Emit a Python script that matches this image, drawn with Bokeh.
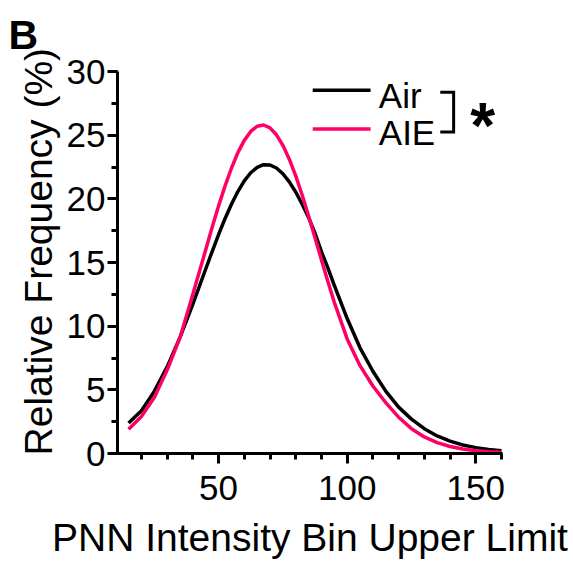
from bokeh.plotting import figure
from bokeh.models import Range1d, SingleIntervalTicker, Label
from bokeh.core.properties import value
from bokeh.embed import file_html
from bokeh.resources import INLINE

# ---- data ----
x_bins = [15, 20, 25, 30, 35, 40, 45,
          47.5, 50, 52.5, 55, 57.5, 60, 62.5, 65, 67.5, 70, 72.5, 75, 77.5, 80, 82.5, 85, 87.5, 90, 92.5,
          95, 100, 105, 110, 115, 120, 125, 130, 135, 140, 145, 150, 155, 160]
air = [2.40, 3.36, 4.88, 6.80, 9.12, 11.73, 14.49,
       15.86, 17.19, 18.44, 19.57, 20.57, 21.41, 22.05, 22.47, 22.68, 22.66, 22.42, 21.97, 21.33,
       20.54, 19.57, 18.53, 17.30, 15.85, 14.57,
       13.20, 10.60, 8.30, 6.46, 4.90, 3.64, 2.70, 1.95, 1.38, 0.97, 0.67, 0.46, 0.31, 0.21]
aie = [1.90, 2.90, 4.40, 6.55, 9.10, 12.50, 16.00,
       17.77, 19.44, 21.00, 22.40, 23.63, 24.59, 25.29, 25.70, 25.80, 25.57, 25.03, 24.20, 23.11,
       21.80, 20.30, 18.66, 16.95, 15.20, 13.50,
       11.87, 9.00, 6.90, 5.30, 4.00, 2.85, 1.95, 1.30, 0.85, 0.55, 0.35, 0.22, 0.14, 0.09]
series_names = ["Air", "AIE"]
series_values = [air, aie]
series_colors = ["#000000", "#FF0066"]
x_tick_interval = 50
y_tick_interval = 5
panel_letter = "B"
significance = "*"

FONT = "Liberation Sans"

p = figure(width=573, height=561, output_backend="svg", toolbar_location=None,
           x_range=Range1d(10.7, 160.4), y_range=Range1d(0, 30),
           min_border_left=117, min_border_right=71, min_border_top=70, min_border_bottom=105)
p.grid.visible = False
p.outline_line_color = None
p.background_fill_color = "white"
p.border_fill_color = "white"

for vals, col in zip(series_values, series_colors):
    p.line(x_bins, vals, line_color=col, line_width=3.5, line_join="round")

p.xaxis.ticker = SingleIntervalTicker(interval=x_tick_interval, num_minor_ticks=5)
p.yaxis.ticker = SingleIntervalTicker(interval=y_tick_interval, num_minor_ticks=2)
p.xaxis.axis_label = "PNN Intensity Bin Upper Limit"
# leading no-break spaces nudge the rotated label upward, as in the reference
p.yaxis.axis_label = "\u00a0\u00a0Relative Frequency (%)"
for ax in (p.xaxis, p.yaxis):
    ax.axis_line_width = 3
    ax.axis_line_color = "black"
    ax.major_tick_line_width = 3
    ax.minor_tick_line_width = 3
    ax.major_tick_line_color = "black"
    ax.minor_tick_line_color = "black"
    ax.major_tick_in = 0
    ax.minor_tick_in = 0
    ax.major_tick_out = 10
    ax.minor_tick_out = 6
    ax.major_label_text_font = FONT
    ax.major_label_text_font_size = "35px"
    ax.major_label_text_color = "black"
    ax.axis_label_text_font = FONT
    ax.axis_label_text_font_size = "39px"
    ax.axis_label_text_font_style = "normal"
    ax.axis_label_text_color = "black"
p.xaxis.major_label_standoff = 12
p.xaxis.axis_label_standoff = 13
p.yaxis.major_label_standoff = 2
p.yaxis.axis_label_standoff = 4

# panel letter as title
p.title.text = panel_letter
p.title.text_font = FONT
p.title.text_font_size = "41px"
p.title.text_font_style = "bold"
p.title.text_color = "black"
p.title.align = "left"
p.title.vertical_align = "top"
p.title.offset = -109
p.title.standoff = 23

# ---- legend drawn by hand ----
leg_x0, leg_x1, leg_tx = 86.6, 109.1, 112.3
leg_line_y = [28.53, 25.49]
leg_text_y = [28.14, 25.18]
for name, col, ly, ty in zip(series_names, series_colors, leg_line_y, leg_text_y):
    p.segment(x0=leg_x0, y0=ly, x1=leg_x1, y1=ly, line_color=col, line_width=3.5)
    p.text(x=[leg_tx], y=[ty], text=[name], text_font=value(FONT), text_font_size="35px",
           text_baseline="middle", text_align="left", text_color="black")

# bracket + asterisk
p.line(x=[136.2, 141.4, 141.4, 136.2], y=[28.37, 28.37, 25.25, 25.25],
       line_color="black", line_width=3, line_join="miter")
p.add_layout(Label(x=152.7, y=25.75, text=significance, text_font=FONT, text_font_size="64px",
                   text_font_style="bold", text_align="center", text_baseline="middle",
                   text_color="black"))

open("out.html", "w").write(file_html(p, INLINE))
